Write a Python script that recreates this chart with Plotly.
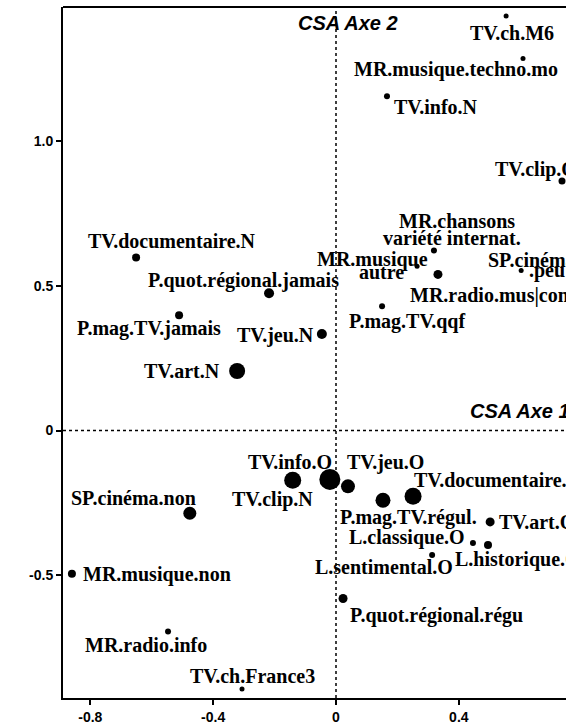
import plotly.graph_objects as go

# ---- data ----
names = [
    "TV.ch.M6", "MR.musique.techno.mo", "TV.info.N", "TV.clip.O",
    "MR.chansons variété internat.", "MR.musique autre", "MR.radio.mus|conc",
    "SP.cinéma.peu", "P.mag.TV.qqf", "TV.jeu.N", "TV.documentaire.N",
    "P.quot.régional.jamais", "P.mag.TV.jamais", "TV.art.N",
    "TV.clip.N", "TV.info.O", "TV.jeu.O", "P.mag.TV.régul.", "TV.documentaire.O",
    "TV.art.O", "L.classique.O", "L.historique.O", "L.sentimental.O",
    "P.quot.régional.régu", "SP.cinéma.non", "MR.musique.non", "MR.radio.info",
    "TV.ch.France3",
]
axe1 = [
    0.554, 0.609, 0.166, 0.736,
    0.319, 0.264, 0.332,
    0.603, 0.150, -0.046, -0.651,
    -0.218, -0.511, -0.322,
    -0.141, -0.020, 0.039, 0.153, 0.251,
    0.502, 0.446, 0.495, 0.313,
    0.023, -0.476, -0.860, -0.547,
    -0.306,
]
axe2 = [
    1.434, 1.287, 1.156, 0.863,
    0.623, 0.568, 0.540,
    0.554, 0.430, 0.334, 0.599,
    0.475, 0.399, 0.206,
    -0.172, -0.169, -0.193, -0.241, -0.227,
    -0.316, -0.389, -0.396, -0.430,
    -0.581, -0.286, -0.495, -0.695,
    -0.894,
]
x_ticks = [-0.8, -0.4, 0, 0.4]
x_tick_labels = ["-0.8", "-0.4", "0", "0.4"]
y_ticks = [-0.5, 0, 0.5, 1.0]
y_tick_labels = ["-0.5", "0", "0.5", "1.0"]

# ---- styles ----
marker_px = [5, 5, 6, 7, 6, 5, 9, 5, 6, 10, 8, 10, 8, 16,
             17, 21, 14, 15, 17, 9, 6, 8, 6, 9, 13, 8, 6, 5]
# label pieces: (text, anchor, xshift, yshift)
label_layout = {
    "TV.ch.M6": [("TV.ch.M6", "center", 6, -17)],
    "MR.musique.techno.mo": [("MR.musique.techno.mo", "left", -171, -11)],
    "TV.info.N": [("TV.info.N", "left", 5, -11)],
    "TV.clip.O": [("TV.clip.O", "left", -69, 12)],
    "MR.chansons variété internat.": [("MR.chansons", "center", 23, 29),
                                      ("variété internat.", "center", 18, 12)],
    "MR.musique autre": [("MR.musique", "right", 13, 7), ("autre", "right", -11, -6)],
    "MR.radio.mus|conc": [("MR.radio.mus|conc", "left", -30, -21)],
    "SP.cinéma.peu": [("SP.cinéma", "left", -35, 10), (".peu", "left", 6, 0)],
    "P.mag.TV.qqf": [("P.mag.TV.qqf", "left", -35, -15)],
    "TV.jeu.N": [("TV.jeu.N", "right", -6, -1)],
    "TV.documentaire.N": [("TV.documentaire.N", "left", -50, 16)],
    "P.quot.régional.jamais": [("P.quot.régional.jamais", "left", -123, 13)],
    "P.mag.TV.jamais": [("P.mag.TV.jamais", "left", -104, -13)],
    "TV.art.N": [("TV.art.N", "right", -15, 0)],
    "TV.clip.N": [("TV.clip.N", "center", -20, -19)],
    "TV.info.O": [("TV.info.O", "center", -40, 17)],
    "TV.jeu.O": [("TV.jeu.O", "left", -3, 24)],
    "P.mag.TV.régul.": [("P.mag.TV.régul.", "left", -45, -17)],
    "TV.documentaire.O": [("TV.documentaire.O", "left", -1, 16)],
    "TV.art.O": [("TV.art.O", "left", 7, 0)],
    "L.classique.O": [("L.classique.O", "right", -6, 6)],
    "L.historique.O": [("L.historique.O", "left", -35, -14)],
    "L.sentimental.O": [("L.sentimental.O", "center", -48, -12)],
    "P.quot.régional.régu": [("P.quot.régional.régu", "left", 5, -17)],
    "SP.cinéma.non": [("SP.cinéma.non", "center", -56, 15)],
    "MR.musique.non": [("MR.musique.non", "left", 9, -1)],
    "MR.radio.info": [("MR.radio.info", "center", -22, -13)],
    "TV.ch.France3": [("TV.ch.France3", "center", 10, 13)],
}

label_font = dict(family="Liberation Serif, Times New Roman, serif", size=20,
                  color="#000000", weight="bold")
title_font = dict(family="Liberation Sans, Arial, sans-serif", size=20,
                  color="#000000", weight="bold", style="italic")
axis_font = dict(family="Liberation Sans, Arial, sans-serif", size=14,
                 color="#000000", weight="bold")

fig = go.Figure()
fig.add_trace(go.Scatter(
    x=axe1, y=axe2, mode="markers",
    marker=dict(size=marker_px, color="#000000", opacity=1, line=dict(width=0)),
    hovertext=names, hoverinfo="text", showlegend=False,
))

annotations = []
for nm, xv, yv in zip(names, axe1, axe2):
    for txt, anc, dx, dy in label_layout[nm]:
        annotations.append(dict(
            x=xv, y=yv, xref="x", yref="y", text=txt, showarrow=False,
            xanchor=anc, yanchor="middle", xshift=dx, yshift=dy, font=label_font,
        ))

annotations.append(dict(x=0.04, y=1.41, xref="x", yref="y", text="CSA Axe 2",
                        showarrow=False, xanchor="center", yanchor="middle",
                        font=title_font))
annotations.append(dict(x=0.43, y=0.069, xref="x", yref="y", text="CSA Axe 1",
                        showarrow=False, xanchor="left", yanchor="middle",
                        font=title_font))

shapes = [
    dict(type="line", xref="x", yref="paper", x0=0, x1=0, y0=0, y1=1,
         line=dict(color="black", width=1.5, dash="dot")),
    dict(type="line", xref="paper", yref="y", x0=0, x1=1, y0=0, y1=0,
         line=dict(color="black", width=1.5, dash="dot")),
    dict(type="line", xref="paper", yref="paper", x0=0, x1=1, y0=1, y1=1,
         line=dict(color="black", width=2)),
]

fig.update_layout(
    width=566, height=725,
    margin=dict(l=63, r=0, t=7, b=23),
    paper_bgcolor="white", plot_bgcolor="white",
    annotations=annotations, shapes=shapes,
    xaxis=dict(range=[-0.889, 0.749], tickvals=x_ticks, ticktext=x_tick_labels,
               showgrid=False, zeroline=False, showline=True, linecolor="black",
               linewidth=2, ticks="outside", ticklen=5, tickwidth=1.5,
               tickcolor="black", tickfont=axis_font),
    yaxis=dict(range=[-0.925, 1.465], tickvals=y_ticks, ticktext=y_tick_labels,
               showgrid=False, zeroline=False, showline=True, linecolor="black",
               linewidth=2, ticks="outside", ticklen=5, tickwidth=1.5,
               tickcolor="black", tickfont=axis_font),
)

fig.write_html(
    "out.html",
    config={"displayModeBar": False},
    post_script="document.body.style.margin='0';document.body.style.overflow='hidden';",
)
